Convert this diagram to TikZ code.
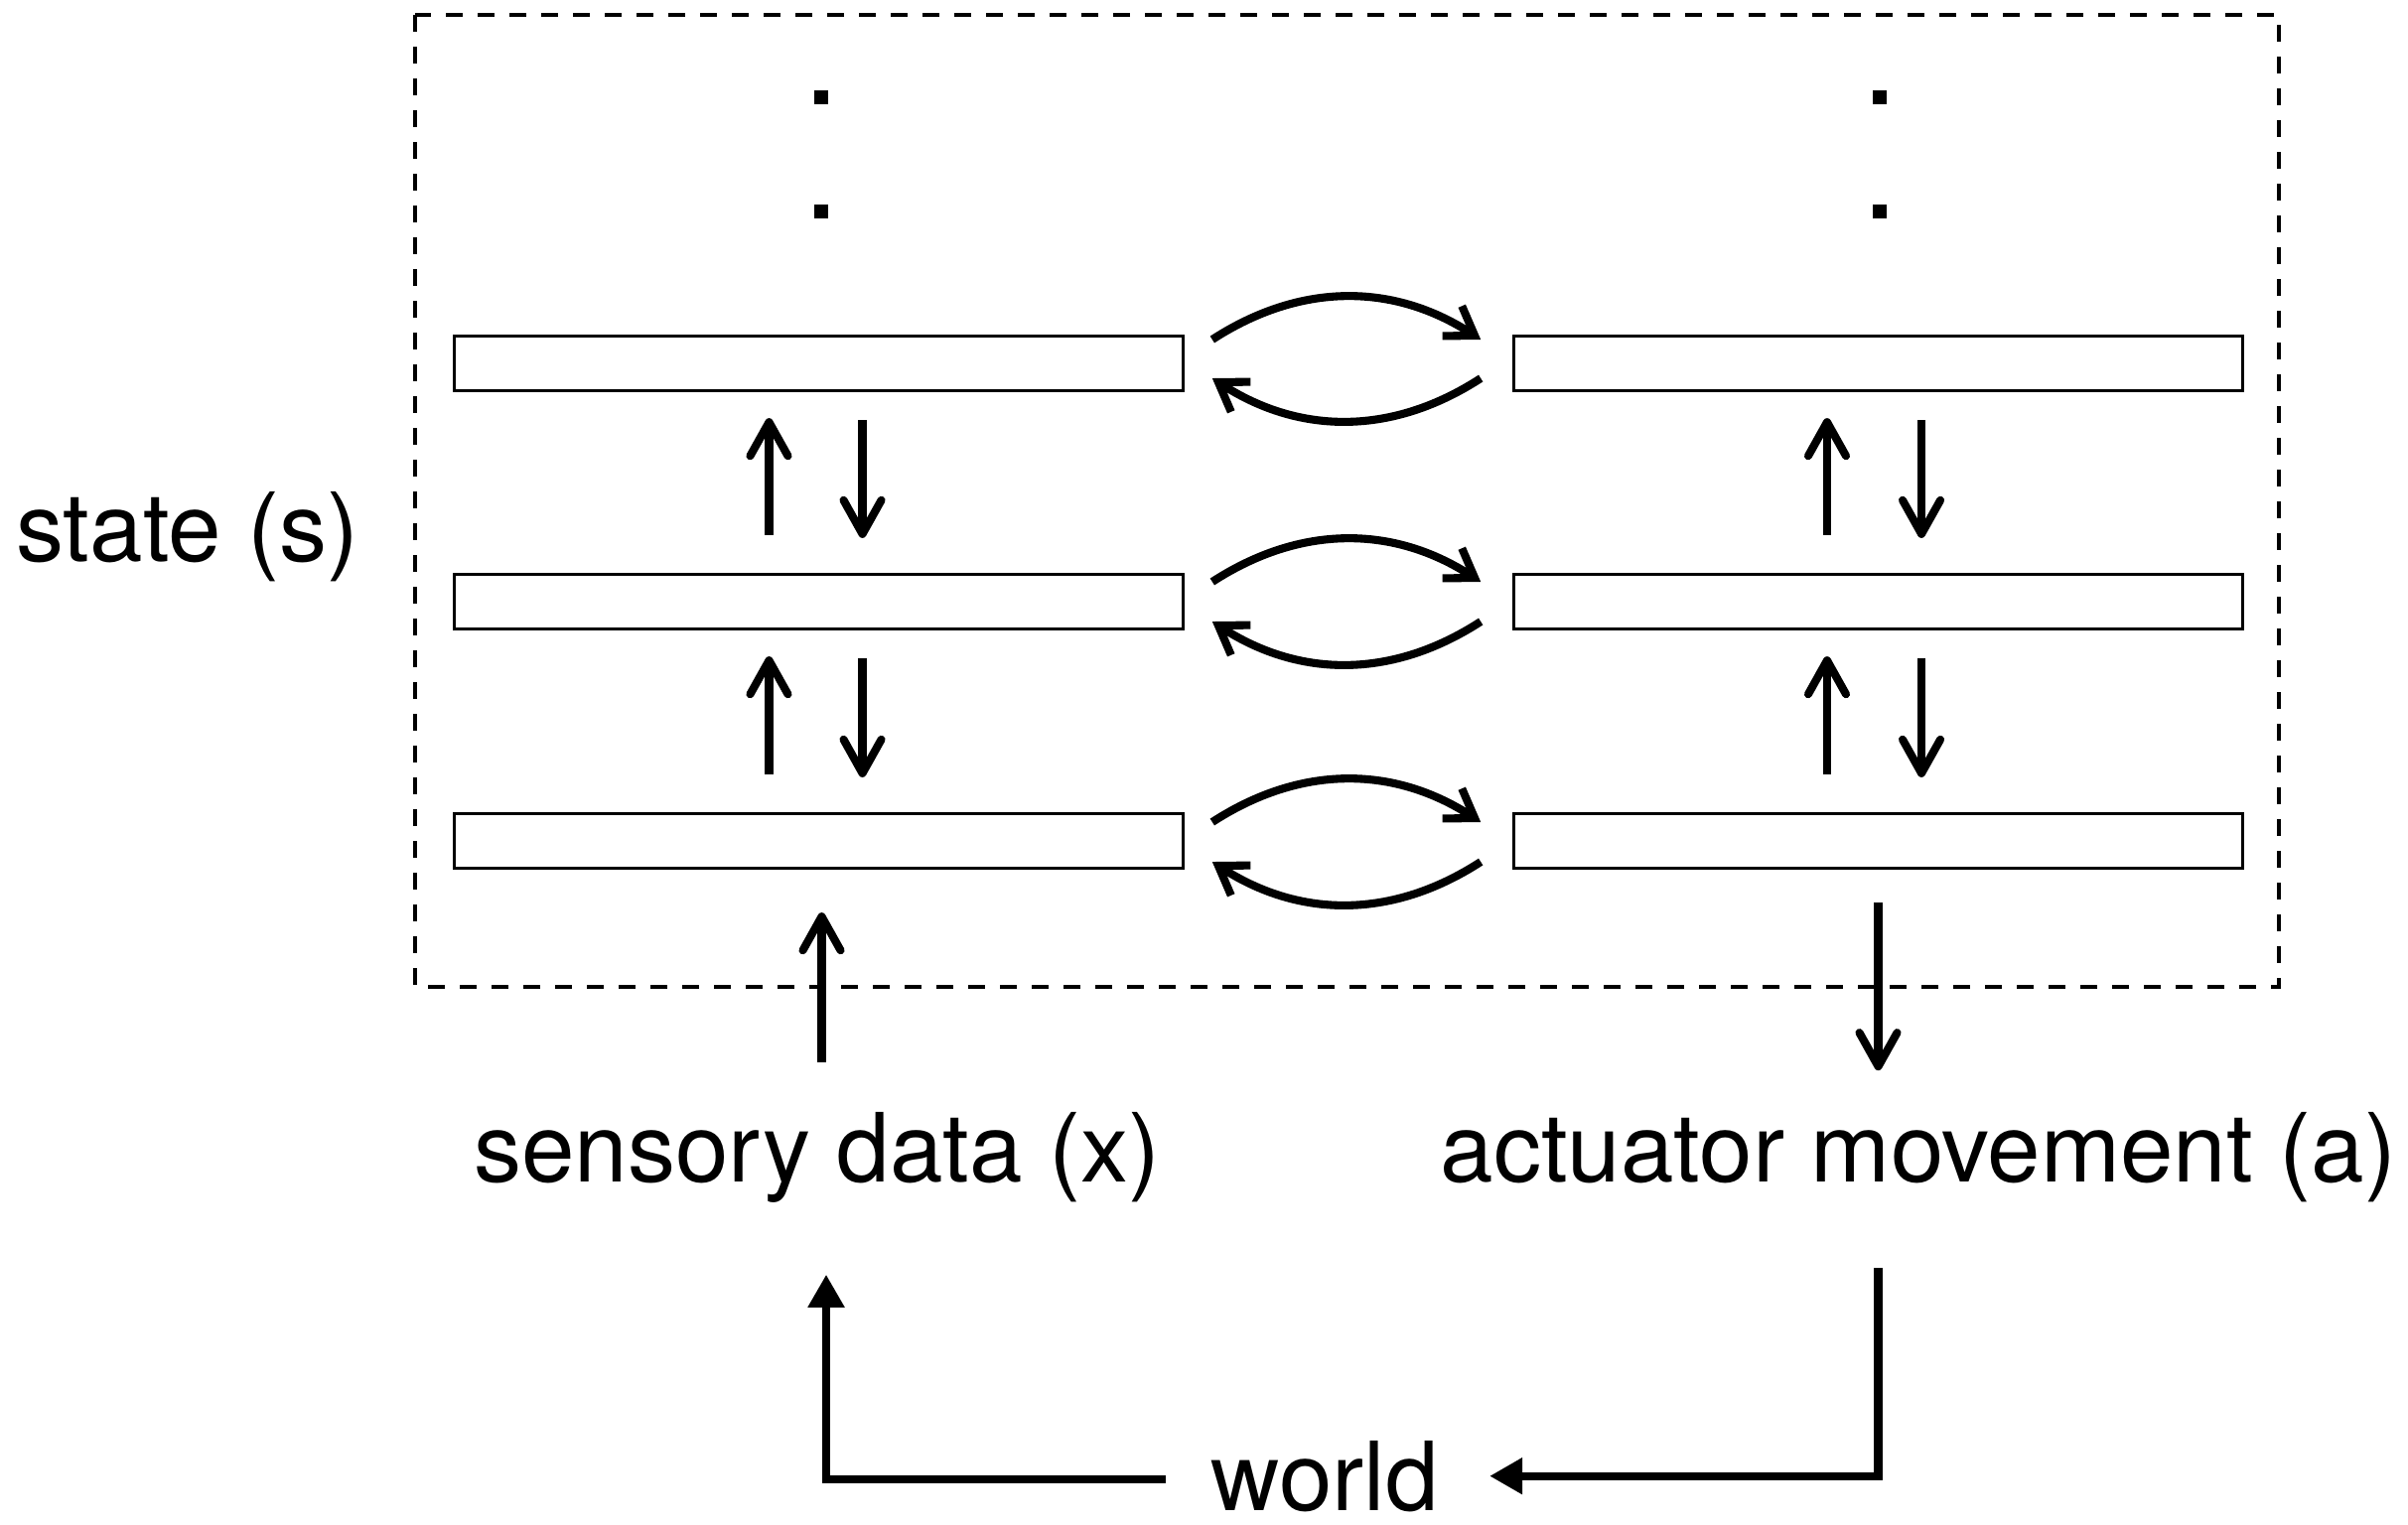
\documentclass[tikz,border=0pt]{standalone}
\usepackage{fontspec}
\setmainfont{TeX Gyre Heros}
\usetikzlibrary{arrows.meta}

\begin{document}
\begin{tikzpicture}[x=0.01cm, y=-0.01cm,
  statebar/.style={draw, line width=0.9pt, minimum width=7.33cm,
                   minimum height=0.55cm, inner sep=0pt},
  txt/.style={inner sep=0pt, font=\fontsize{27.35}{32}\selectfont},
  updown/.style={line width=2.3pt, -{Straight Barb[length=3.4mm, width=3.8mm, round]}},
  crossarc/.style={line width=2.3pt, -{Straight Barb[length=2.7mm, width=3.6mm]},
                   bend left=33},
  worldline/.style={line width=2.3pt, -{Triangle[length=3.3mm, width=3.5mm]}},
  statebox/.style={line width=1pt, dash pattern=on 4.8pt off 4.3pt}]
  \useasboundingbox (0,0) rectangle (2425,1535);

  % the state: a dashed frame round two stacks of layers
  \draw[statebox] (418,15) rectangle (2295,994);
  \node[txt, anchor=base] (state) at (189,565) {state (s)};

  % sensory stack (left) and actuator stack (right)
  \node[statebar] (L1) at (824.5,366) {};
  \node[statebar] (L2) at (824.5,606) {};
  \node[statebar] (L3) at (824.5,847) {};
  \node[statebar] (R1) at (1891.5,366) {};
  \node[statebar] (R2) at (1891.5,606) {};
  \node[statebar] (R3) at (1891.5,847) {};

  % more layers above
  \foreach \dx in {827,1893}
    \foreach \dy in {98,213}
      \fill ({\dx-7},{\dy-7}) rectangle ({\dx+7},{\dy+7});

  % up and down between neighbouring layers
  \draw[updown] ([xshift=-0.5cm, yshift=0.38cm]L2.north) -- ([xshift=-0.5cm, yshift=-0.26cm]L1.south);
  \draw[updown] ([xshift=0.44cm, yshift=-0.28cm]L1.south) -- ([xshift=0.44cm, yshift=0.35cm]L2.north);
  \draw[updown] ([xshift=-0.5cm, yshift=0.38cm]L3.north) -- ([xshift=-0.5cm, yshift=-0.26cm]L2.south);
  \draw[updown] ([xshift=0.44cm, yshift=-0.28cm]L2.south) -- ([xshift=0.44cm, yshift=0.35cm]L3.north);
  \draw[updown] ([xshift=-0.515cm, yshift=0.38cm]R2.north) -- ([xshift=-0.515cm, yshift=-0.26cm]R1.south);
  \draw[updown] ([xshift=0.435cm, yshift=-0.28cm]R1.south) -- ([xshift=0.435cm, yshift=0.35cm]R2.north);
  \draw[updown] ([xshift=-0.515cm, yshift=0.38cm]R3.north) -- ([xshift=-0.515cm, yshift=-0.26cm]R2.south);
  \draw[updown] ([xshift=0.435cm, yshift=-0.28cm]R2.south) -- ([xshift=0.435cm, yshift=0.35cm]R3.north);

  % across the two stacks
  \draw[crossarc] ([xshift=0.28cm, yshift=0.24cm]L1.east) to ([xshift=-0.32cm, yshift=0.24cm]R1.west);
  \draw[crossarc] ([xshift=-0.32cm, yshift=-0.15cm]R1.west) to ([xshift=0.28cm, yshift=-0.15cm]L1.east);
  \draw[crossarc] ([xshift=0.28cm, yshift=0.20cm]L2.east) to ([xshift=-0.32cm, yshift=0.20cm]R2.west);
  \draw[crossarc] ([xshift=-0.32cm, yshift=-0.20cm]R2.west) to ([xshift=0.28cm, yshift=-0.20cm]L2.east);
  \draw[crossarc] ([xshift=0.28cm, yshift=0.19cm]L3.east) to ([xshift=-0.32cm, yshift=0.19cm]R3.west);
  \draw[crossarc] ([xshift=-0.32cm, yshift=-0.21cm]R3.west) to ([xshift=0.28cm, yshift=-0.21cm]L3.east);

  % in and out
  \node[txt, anchor=base] (sens) at (823,1190) {sensory data (x)};
  \node[txt, anchor=base] (act) at (1932,1190) {actuator movement (a)};
  \node[txt, anchor=base] (world) at (1334,1521) {world};

  \draw[updown, shorten <=0.49cm, shorten >=0.43cm]
    ([xshift=0.03cm]L3.south |- sens.north) -- ([xshift=0.03cm]L3.south);
  \draw[updown, shorten <=0.33cm, shorten >=0.41cm]
    (R3.south) -- (R3.south |- act.north);

  % the loop through the world
  \draw[worldline, shorten <=0.45cm, shorten >=0.72cm]
    ([yshift=-0.03cm]world.west) -| ([xshift=0.09cm]sens.south);
  \draw[worldline, shorten <=0.66cm, shorten >=0.51cm]
    (R3.south |- act.south) |- (world.east);
\end{tikzpicture}
\end{document}
